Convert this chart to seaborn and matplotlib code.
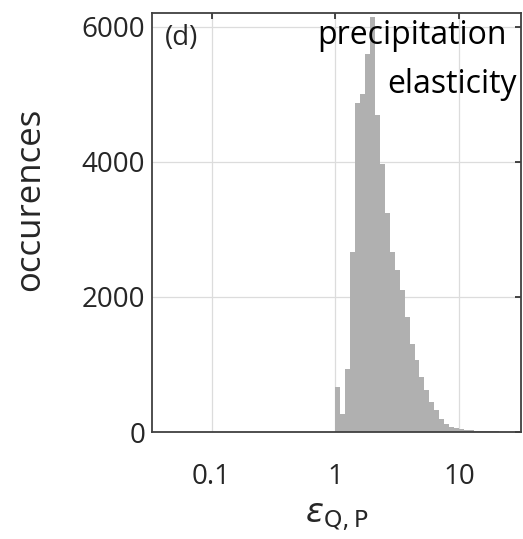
import numpy as np
import pandas as pd
import matplotlib
matplotlib.use("Agg")
import matplotlib.pyplot as plt
import seaborn as sns

# histogram counts, log-spaced bins (0.04 decade wide) starting at 1
bin_exponents = [round(0.04 * i, 2) for i in range(39)]
counts = [667, 272, 938, 2667, 4864, 5000, 5600, 6150, 4700, 3975,
          3235, 2667, 2400, 2099, 1704, 1309, 1062, 815, 617, 444,
          321, 198, 123, 74, 52, 40, 32, 26, 20, 16,
          12, 10, 8, 6, 5, 4, 3, 2]
x_ticks = [0.1, 1, 10]
x_ticklabels = ["0.1", "1", "10"]
y_ticks = [0, 2000, 4000, 6000]

edges = np.array(bin_exponents)
df = pd.DataFrame({"eps": 10 ** ((edges[:-1] + edges[1:]) / 2), "n": counts})

sns.set_style("white")
plt.rcParams["font.family"] = ["Open Sans", "DejaVu Sans"]

fig = plt.figure(figsize=(5.23, 5.39), dpi=100)
ax = fig.add_axes([0.291, 0.1985, 0.705, 0.777])

sns.histplot(data=df, x="eps", weights="n", bins=bin_exponents,
             log_scale=True, color="#b0b0b0", alpha=1, edgecolor="none", linewidth=0, ax=ax)

ax.set_xlim(10 ** -1.48, 10 ** 1.5)
ax.set_ylim(0, 6200)
ax.xaxis.set_major_locator(matplotlib.ticker.FixedLocator(x_ticks))
ax.xaxis.set_minor_locator(matplotlib.ticker.NullLocator())
ax.set_xticklabels(x_ticklabels)
ax.set_yticks(y_ticks)
ax.grid(True, color="#dcdcdc", linewidth=0.9)
ax.set_axisbelow(True)
ax.tick_params(direction="in", length=4, width=1.2, color="#262626",
               top=True, right=True, labelsize=20, labelcolor="#262626")
ax.tick_params(axis="x", pad=22)
ax.tick_params(axis="y", pad=5)
for s in ax.spines.values():
    s.set_visible(True)
    s.set_color("#404040")
    s.set_linewidth(1.3)

ax.set_ylabel("occurences", fontsize=25, color="#262626")
ax.yaxis.set_label_coords(-0.285, 0.555)
ax.set_xlabel(r"$\varepsilon_{\mathrm{Q,P}}$", fontsize=24, color="#262626", labelpad=7)

ax.text(0.035, 0.975, "(d)", transform=ax.transAxes, fontsize=20,
        ha="left", va="top", color="#262626")
ax.text(0.962, 0.985, "precipitation", transform=ax.transAxes,
        fontsize=23, ha="right", va="top", color="#000000", fontweight="medium")
ax.text(0.988, 0.87, "elasticity", transform=ax.transAxes,
        fontsize=23, ha="right", va="top", color="#000000", fontweight="medium")

fig.savefig("out.png", dpi=100)
